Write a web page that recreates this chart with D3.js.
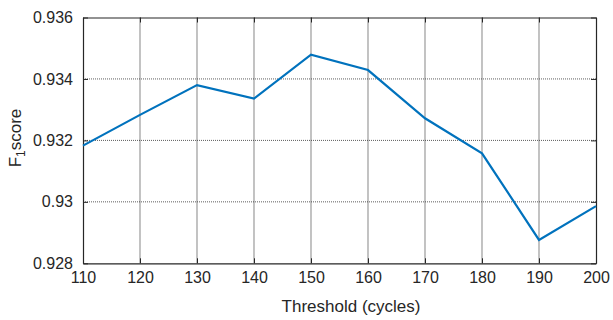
<!DOCTYPE html>
<html><head><meta charset="utf-8">
<script src="https://cdn.jsdelivr.net/npm/d3@7"></script>
<style>body{margin:0;background:#fff}svg{display:block}text{font-family:"Liberation Sans",Arial,sans-serif}</style>
</head><body>
<svg id="c" width="613" height="320"></svg>
<script>
const thresholds = [110,120,130,140,150,160,170,180,190,200];
const f1 = [0.93183,0.93283,0.93380,0.93336,0.93479,0.93429,0.93272,0.93158,0.92876,0.92986];
const xTicks = [110,120,130,140,150,160,170,180,190,200];
const yTicks = [0.928,0.93,0.932,0.934,0.936];
const yTickLabels = ["0.928","0.93","0.932","0.934","0.936"];

const svg = d3.select("#c");
const L=83, R=596, T=17.5, B=263.3;
const x = d3.scaleLinear().domain([110,200]).range([L,R]);
const y = d3.scaleLinear().domain([0.928,0.936]).range([B,T]);
const ax = "#262626";

// vertical grid
svg.append("g").selectAll("line").data(xTicks.slice(1,-1)).join("line")
  .attr("x1",d=>x(d)).attr("x2",d=>x(d)).attr("y1",T).attr("y2",B)
  .attr("stroke","#9a9a9a").attr("stroke-width",1.2);
// horizontal grid dotted
svg.append("g").selectAll("line").data(yTicks.slice(1,-1)).join("line")
  .attr("x1",L).attr("x2",R).attr("y1",d=>y(d)).attr("y2",d=>y(d))
  .attr("stroke","#333").attr("stroke-width",0.8).attr("stroke-dasharray","1,1");

// axes
const gx = svg.append("g").attr("transform",`translate(0,${B})`)
  .call(d3.axisBottom(x).tickValues(xTicks).tickSize(-5).tickPadding(8).tickSizeOuter(0));
const gxt = svg.append("g").attr("transform",`translate(0,${T})`)
  .call(d3.axisTop(x).tickValues(xTicks).tickSize(-5).tickFormat("").tickSizeOuter(0));
const gy = svg.append("g").attr("transform",`translate(${L},0)`)
  .call(d3.axisLeft(y).tickValues(yTicks).tickSize(-5).tickPadding(10).tickFormat((d,i)=>yTickLabels[i]).tickSizeOuter(0));
const gyr = svg.append("g").attr("transform",`translate(${R},0)`)
  .call(d3.axisRight(y).tickValues(yTicks).tickSize(-5).tickFormat("").tickSizeOuter(0));
[gx,gxt,gy,gyr].forEach(g=>{
  g.selectAll("path").attr("stroke",ax).attr("stroke-width",1.2);
  g.selectAll("line").attr("stroke",ax).attr("stroke-width",1);
  g.selectAll("text").attr("fill",ax).attr("font-size",16).attr("font-family","Liberation Sans, Arial, sans-serif");
});

// line
svg.append("path").datum(thresholds.map((t,i)=>[t,f1[i]]))
  .attr("d",d3.line().x(d=>x(d[0])).y(d=>y(d[1])))
  .attr("fill","none").attr("stroke","#0072BD").attr("stroke-width",2.2);

// labels
svg.append("text").attr("x",351).attr("y",312).attr("text-anchor","middle")
  .attr("font-size",17).attr("fill",ax).text("Threshold (cycles)");
const yl = svg.append("text").attr("transform",`translate(21,138) rotate(-90)`)
  .attr("text-anchor","middle").attr("font-size",17).attr("fill",ax);
yl.append("tspan").text("F");
yl.append("tspan").attr("font-size",12).attr("dy",4).text("1");
yl.append("tspan").attr("dy",-4).text("score");
</script>
</body></html>
